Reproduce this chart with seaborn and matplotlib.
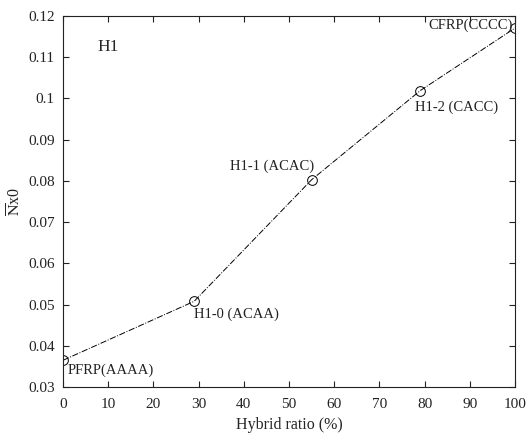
import matplotlib
matplotlib.use("Agg")
import matplotlib.pyplot as plt
import seaborn as sns
import pandas as pd

# Hybrid ratio (%) and normalised buckling load for the H1 laminate family
hybrid_ratio = [0, 29, 55, 79, 100]
nx0 = [0.0365, 0.0508, 0.0803, 0.1019, 0.1171]
point_labels = ["PFRP(AAAA)", "H1-0 (ACAA)", "H1-1 (ACAC)", "H1-2 (CACC)", "CFRP(CCCC)"]
x_ticks = [0, 10, 20, 30, 40, 50, 60, 70, 80, 90, 100]
y_ticks = [0.03, 0.04, 0.05, 0.06, 0.07, 0.08, 0.09, 0.1, 0.11, 0.12]
y_tick_labels = ["0.03", "0.04", "0.05", "0.06", "0.07", "0.08", "0.09", "0.1", "0.11", "0.12"]

sns.set_theme(style="ticks")
plt.rcParams["font.family"] = ["Liberation Serif", "DejaVu Serif"]
plt.rcParams["mathtext.fontset"] = "stix"

df = pd.DataFrame({"ratio": hybrid_ratio, "nx0": nx0})

fig = plt.figure(figsize=(5.27, 4.33), dpi=100)
ax = fig.add_axes([0.1195, 0.106, 0.858, 0.857])

sns.lineplot(data=df, x="ratio", y="nx0", ax=ax, color="black", linestyle="-.",
             linewidth=0.7, marker="o", markersize=7, markerfacecolor="none",
             markeredgecolor="black", markeredgewidth=0.7)

# Point annotations: (dx, dy) offsets in points and horizontal alignment
placements = [((3, -7.5), "left"), ((0, -9), "left"), ((2, 10), "right"),
              ((-3.5, -12), "left"), ((-1.5, 2), "right")]
for x, y, lab, ((dx, dy), ha) in zip(hybrid_ratio, nx0, point_labels, placements):
    ax.annotate(lab, (x, y), xytext=(dx, dy), textcoords="offset points",
                fontsize=10.5, ha=ha, va="center", color="#222222")

ax.text(7.6, 0.1125, "H1", fontsize=12.5, ha="left", va="center")

ax.set_xlim(0, 100)
ax.set_ylim(0.03, 0.12)
ax.set_xticks(x_ticks)
ax.set_yticks(y_ticks)
ax.set_yticklabels(y_tick_labels)
ax.tick_params(direction="in", top=True, right=True, labelsize=11, length=4,
               width=0.8, colors="#222222")
ax.tick_params(axis="x", pad=8)
ax.tick_params(axis="y", pad=6)
for s in ax.spines.values():
    s.set_linewidth(0.8)
    s.set_color("#222222")

ax.set_xlabel("Hybrid ratio (%)", fontsize=11.5, labelpad=4)
ax.set_ylabel(r"$\overline{\mathrm{N}}$x0", fontsize=11.5, labelpad=2)

fig.savefig("out.png", dpi=100)
